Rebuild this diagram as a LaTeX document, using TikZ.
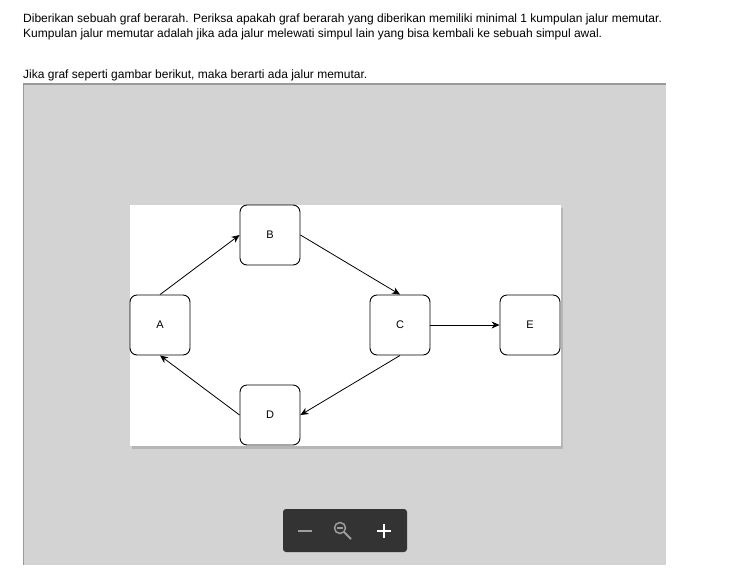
\documentclass[tikz,border=0pt]{standalone}
\usepackage{fontspec}
\setmainfont{Liberation Sans}
\usepackage{tikz}
\usetikzlibrary{arrows.meta,shadows}

\definecolor{panelgray}{HTML}{D3D3D3}
\definecolor{bordergray}{HTML}{9A9A9A}
\definecolor{barcolor}{HTML}{333333}
\definecolor{icongray}{HTML}{9E9E9E}

\tikzset{
  vertex/.style={draw,rectangle,rounded corners=7pt,minimum width=60pt,minimum height=60pt,fill=white,font=\fontsize{11}{12}\selectfont,line width=0.9pt},
  arc/.style={-{Stealth[length=8pt,width=7pt]},line width=0.8pt},
  question/.style={anchor=base west,inner sep=0pt,font=\fontsize{12}{14}\selectfont}
}

\begin{document}
\begin{tikzpicture}[x={(1pt,0pt)}, y={(0pt,-1pt)}]
  \useasboundingbox (0,0) rectangle (752,582);
  % Text
  \node[question] (Line1) at (23,22) {Diberikan sebuah graf berarah. Periksa apakah graf berarah yang diberikan memiliki minimal 1 kumpulan jalur memutar.};
  \node[question] (Line2) at (23,37) {Kumpulan jalur memutar adalah jika ada jalur melewati simpul lain yang bisa kembali ke sebuah simpul awal.};
  \node[question] (Line3) at (23,78) {Jika graf seperti gambar berikut, maka berarti ada jalur memutar.};

  % Panel
  \fill[panelgray] (23,83) rectangle (666,565);
  \draw[bordergray,line width=2pt] (23,84) -- (666,84);
  \draw[bordergray,line width=1.5pt] (23.7,84) -- (23.7,565);
  \fill[white,drop shadow={shadow xshift=2pt,shadow yshift=-3pt,opacity=0.35}] (130,205) rectangle (561,446);

  % Nodes
  \node[vertex] (A) at (160,325) {A};
  \node[vertex] (B) at (270,235) {B};
  \node[vertex] (C) at (400,325) {C};
  \node[vertex] (D) at (270,415) {D};
  \node[vertex] (E) at (530,325) {E};

  % Edges
  \draw[arc] (A.north) -- (B.west);
  \draw[arc] (B.east) -- (C.north);
  \draw[arc] (C.south) -- (D.east);
  \draw[arc] (D.west) -- (A.south);
  \draw[arc] (C.east) -- (E.west);

  % Zoom bar
  \fill[barcolor,rounded corners=3pt] (283,509) rectangle (407,552);
  \draw[icongray,line width=1.6pt] (298,531) -- (312,531);
  \draw[icongray,line width=1.5pt] (340,528) circle (5.5);
  \draw[icongray,line width=1.2pt] (337,528) -- (343,528);
  \draw[icongray,line width=2pt] (344,532) -- (351,539);
  \draw[white,line width=2pt] (377,531) -- (391,531);
  \draw[white,line width=2pt] (384,524) -- (384,538);
\end{tikzpicture}
\end{document}
